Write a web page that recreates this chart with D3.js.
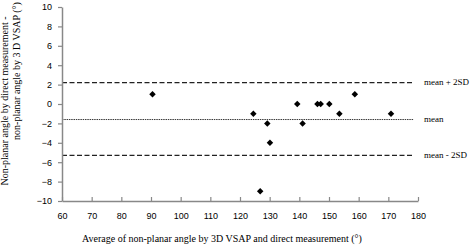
<!DOCTYPE html>
<html>
<head>
<meta charset="utf-8">
<script src="https://cdn.jsdelivr.net/npm/d3@7"></script>
<style>
  body { margin: 0; background: #fff; }
  .tick text { font-family: "Liberation Sans", Arial, sans-serif; font-size: 9px; fill: #000; }
  .serif { font-family: "Liberation Serif", "Times New Roman", serif; fill: #000; }
</style>
</head>
<body>
<script>
// basic settings
const width = 471;
const height = 247;
const marginLeft = 62;
const marginTop = 7;
const plotRight = 418;
const plotBottom = 201;

// data
const avgAngle = [90.5, 124.5, 126.8, 129.2, 130.1, 139.3, 141.1, 146.1, 147.2, 150.1, 153.5, 158.7, 170.9];
const diffAngle = [1, -1, -9, -2, -4, 0, -2, 0, 0, 0, -1, 1, -1];
const refNames = ['mean + 2SD', 'mean', 'mean - 2SD'];
const refValues = [2.2, -1.6, -5.3];
const refDash = ['5,2.5', '1.5,0.8', '5,2.5'];
const refExtent = [60, 178.4];
const xTicks = [60, 70, 80, 90, 100, 110, 120, 130, 140, 150, 160, 170, 180];
const yTicks = [-10, -8, -6, -4, -2, 0, 2, 4, 6, 8, 10];

const x = d3.scaleLinear().domain([60, 180]).range([marginLeft, plotRight]);
const y = d3.scaleLinear().domain([-10, 10]).range([plotBottom, marginTop]);

const svg = d3.select('body')
  .append('svg')
  .attr('width', width)
  .attr('height', height);

// reference lines
const refs = svg.append('g').selectAll('g')
  .data(refValues)
  .join('g');

refs.append('line')
  .attr('x1', x(refExtent[0]))
  .attr('x2', x(refExtent[1]))
  .attr('y1', d => y(d))
  .attr('y2', d => y(d))
  .attr('stroke', '#222')
  .attr('stroke-width', (d, i) => i === 1 ? 0.9 : 1.1)
  .attr('stroke-dasharray', (d, i) => refDash[i]);

refs.append('text')
  .attr('class', 'serif')
  .attr('x', 424)
  .attr('y', d => y(d) + 2.8)
  .attr('font-size', 9)
  .text((d, i) => refNames[i]);

// axes
const xAxis = svg.append('g')
  .attr('transform', `translate(0,${plotBottom})`)
  .call(d3.axisBottom(x).tickValues(xTicks).tickSize(-4).tickPadding(12).tickSizeOuter(0));

const yAxis = svg.append('g')
  .attr('transform', `translate(${marginLeft},0)`)
  .call(d3.axisLeft(y).tickValues(yTicks).tickSize(4).tickPadding(6).tickSizeOuter(0));

[xAxis, yAxis].forEach(g => {
  g.select('.domain').attr('stroke', '#888').attr('stroke-width', 1.5);
  g.selectAll('.tick line').attr('stroke', '#888').attr('stroke-width', 1.2);
});

// points
const diamond = d3.symbol().type(d3.symbolSquare).size(21);
svg.append('g').selectAll('path')
  .data(avgAngle)
  .join('path')
  .attr('d', diamond)
  .attr('transform', (d, i) => `translate(${x(d)},${y(diffAngle[i])}) rotate(45)`)
  .attr('fill', '#000');

// titles
svg.append('text')
  .attr('class', 'serif')
  .attr('x', 222)
  .attr('y', 242)
  .attr('text-anchor', 'middle')
  .attr('font-size', 10)
  .text('Average of non-planar angle by 3D VSAP and direct measurement (°)');

svg.append('text')
  .attr('class', 'serif')
  .attr('transform', 'translate(8,101) rotate(-90)')
  .attr('text-anchor', 'middle')
  .attr('font-size', 10)
  .text('Non-planar angle by direct measurement -');

svg.append('text')
  .attr('class', 'serif')
  .attr('transform', 'translate(20,71) rotate(-90)')
  .attr('text-anchor', 'middle')
  .attr('font-size', 10)
  .text('non-planar angle by 3 D VSAP (°)');
</script>
</body>
</html>
